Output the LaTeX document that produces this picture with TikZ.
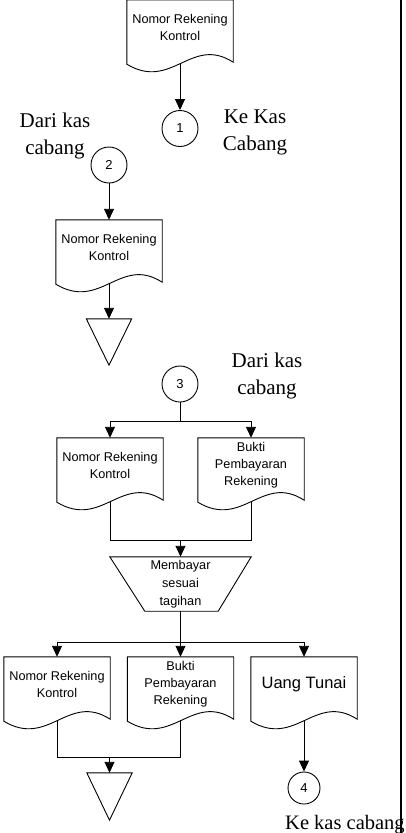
\documentclass[tikz,border=0pt]{standalone}
\usepackage{fontspec}
\setmainfont{Liberation Serif}
\newfontfamily\arialfont{Liberation Sans}
\usetikzlibrary{arrows.meta}

% document symbol: flat top, wavy bottom edge hanging 8pt below the node
\newcommand\wavedoc[1]{%
  \draw[shapeline] (#1.north west) -- (#1.north east) -- ([yshift=-7pt]#1.south east)
    .. controls ([xshift=-42pt,yshift=20pt]#1.south east) and ([xshift=45pt,yshift=-36pt]#1.south west)
    .. ([yshift=-9pt]#1.south west) -- cycle;}
% merge (file) symbol: downward triangle
\newcommand\mergetri[1]{%
  \draw[shapeline] (#1.north west) -- (#1.north east) -- (#1.south) -- cycle;}

\begin{document}
\begin{tikzpicture}[x=1pt,y=-1pt,
  shapeline/.style={line width=0.9pt},
  docbox/.style={minimum width=106pt,minimum height=55pt,inner sep=0pt,align=center,
    font={\arialfont\fontsize{12.7pt}{17pt}\selectfont}},
  conn/.style={circle,draw,line width=0.9pt,minimum size=36pt,inner sep=0pt,
    font={\arialfont\fontsize{13pt}{15pt}\selectfont}},
  mergebox/.style={minimum width=45pt,minimum height=46pt,inner sep=0pt},
  note/.style={inner sep=0pt,align=center,font={\fontsize{21pt}{27pt}\selectfont}},
  flow/.style={line width=0.9pt},
  arr/.style={flow,-{Triangle[length=11pt,width=10pt]}}]
\useasboundingbox (0,0) rectangle (405,833);

% right-hand column rule
\draw[line width=1.2pt] (401,-2) -- (401,835);

% ---- upper part: control account sent to branch
\node[docbox] (d1) at (180,27.5) {Nomor Rekening\\Kontrol};
\wavedoc{d1}
\node[conn] (c1) at (180,128.5) {1};
\draw[arr] ([yshift=-8pt]d1.south) -- (c1);
\node[note] (lk1) at (255,132) {Ke Kas\\Cabang};

% ---- returned from branch and filed
\node[note] (ld2) at (55,136) {Dari kas\\cabang};
\node[conn] (c2) at (109,165) {2};
\node[docbox] (d2) at (109,247.5) {Nomor Rekening\\Kontrol};
\wavedoc{d2}
\draw[arr] (c2) -- (d2.north);
\node[mergebox] (t1) at (109,342) {};
\mergetri{t1}
\draw[arr] ([yshift=-8pt]d2.south) -- (t1.north);

% ---- payment
\node[conn] (c3) at (180,384) {3};
\node[note] (ld3) at (267,376) {Dari kas\\cabang};
\coordinate (j3) at (180,421);
\node[docbox] (d3a) at (110,465.5) {Nomor Rekening\\Kontrol};
\wavedoc{d3a}
\node[docbox] (d3b) at (251,465.5) {Bukti\\Pembayaran\\Rekening};
\wavedoc{d3b}
\draw[flow] (c3) -- (j3);
\draw[arr] (j3) -| (d3a.north);
\draw[arr] (j3) -| (d3b.north);

\coordinate (m3) at (180.5,540);
\draw[flow] ([yshift=-8pt]d3a.south) |- (m3);
\draw[flow] ([yshift=-8pt]d3b.south) |- (m3);

\node[inner sep=0pt,minimum width=141pt,minimum height=54pt,align=center,
  font={\arialfont\fontsize{12.7pt}{18pt}\selectfont}] (pay) at (180.5,584) {Membayar\\sesuai\\tagihan};
\draw[shapeline] (pay.north west) -- (pay.north east) -- ([xshift=-33pt]pay.south east)
  -- ([xshift=35pt]pay.south west) -- cycle;
\draw[arr] (m3) -- (pay.north);

% ---- outputs of payment
\coordinate (j4) at (180.5,642);
\node[docbox] (d4a) at (57,684.5) {Nomor Rekening\\Kontrol};
\wavedoc{d4a}
\node[docbox] (d4b) at (180.5,684.5) {Bukti\\Pembayaran\\Rekening};
\wavedoc{d4b}
\node[docbox,font={\arialfont\fontsize{16.5pt}{20pt}\selectfont}] (d4c) at (304,684.5) {Uang Tunai};
\wavedoc{d4c}
\draw[flow] (pay.south) -- (j4);
\draw[arr] (j4) -| (d4a.north);
\draw[arr] (j4) -- (d4b.north);
\draw[arr] (j4) -| (d4c.north);

\coordinate (m4) at (109.5,757);
\draw[flow] ([yshift=-8pt]d4a.south) |- (m4);
\draw[flow] ([yshift=-8pt]d4b.south) |- (m4);
\node[mergebox,minimum height=47pt] (t2) at (109.5,796.5) {};
\mergetri{t2}
\draw[arr] (m4) -- (t2.north);

\node[conn,minimum size=32pt] (c4) at (304,788) {4};
\draw[arr] ([yshift=-8pt]d4c.south) -- (c4);
\node[note,anchor=base west,font={\fontsize{20.5pt}{27pt}\selectfont}] (lk4) at (285,829) {Ke kas cabang};
\end{tikzpicture}
\end{document}
